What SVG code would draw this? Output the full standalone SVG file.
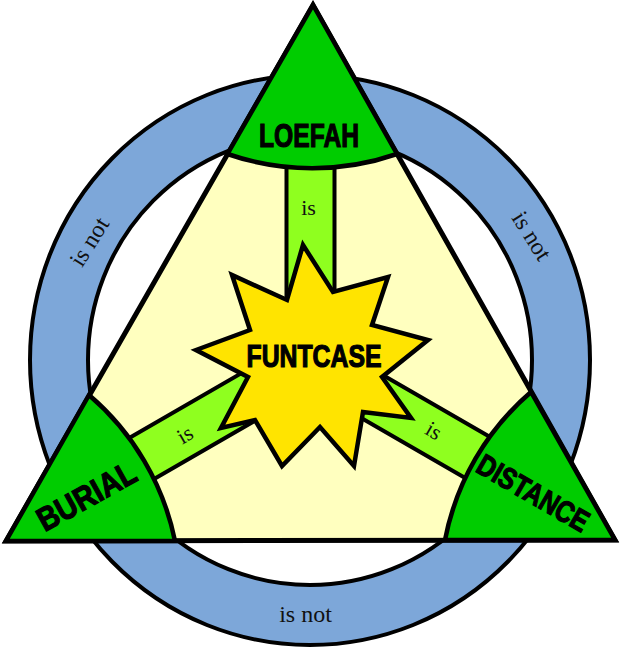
<svg xmlns="http://www.w3.org/2000/svg" width="622" height="654" viewBox="0 0 622 654">
<style>
.ring{fill:#7DA7D9;fill-rule:evenodd;stroke:#000;stroke-width:4;}
.tri{fill:#FFFFBF;stroke:#000;stroke-width:5;stroke-linejoin:miter;}
.bar{fill:#8FFF1F;stroke:#000;stroke-width:4;}
.corner{fill:#00CC00;stroke:#000;stroke-width:4.5;stroke-linejoin:miter;}
.star{fill:#FFE400;stroke:#000;stroke-width:4.5;stroke-linejoin:miter;}
.lbl{font-family:"Liberation Sans","DejaVu Sans",Arial,sans-serif;font-weight:bold;fill:#000;stroke:#000;stroke-width:1.2;text-anchor:middle;}
.rel{font-family:"Liberation Serif","DejaVu Serif","Times New Roman",serif;fill:#111;text-anchor:middle;}
</style>
<rect width="622" height="654" fill="#fff"/>
<g id="ring">
<path class="ring" d="M30 360 A280 285 0 1 0 590 360 A280 285 0 1 0 30 360 Z M88 360 A222 225 0 1 0 532 360 A222 225 0 1 0 88 360 Z"/>
</g>
<g id="triangle">
<polygon class="tri" points="313,5 6,541 615,540"/>
</g>
<g id="connectors">
<rect class="bar" x="0" y="-24" width="206" height="48" transform="translate(310.5,361) rotate(-90)"/>
<rect class="bar" x="0" y="-24" width="206" height="48" transform="translate(310.5,361) rotate(150)"/>
<rect class="bar" x="0" y="-24" width="206" height="48" transform="translate(310.5,361) rotate(30)"/>
</g>
<g id="loefah">
<path class="corner" d="M313 5 L227.5 154 A260 260 0 0 0 397 154 Z"/>
<text class="lbl" x="309" y="147" font-size="34" textLength="100" lengthAdjust="spacingAndGlyphs">LOEFAH</text>
</g>
<g id="burial">
<path class="corner" d="M6 541 L175 541 A260 260 0 0 0 89 395 Z"/>
<text class="lbl" x="92" y="506" font-size="33" textLength="108" lengthAdjust="spacingAndGlyphs" transform="rotate(-29 92 506)">BURIAL</text>
</g>
<g id="distance">
<path class="corner" d="M615 540 L531 392 A260 260 0 0 0 445 540 Z"/>
<text class="lbl" x="528" y="502" font-size="30" textLength="124" lengthAdjust="spacingAndGlyphs" transform="rotate(30 528 502)">DISTANCE</text>
</g>
<g id="funtcase">
<polygon class="star" points="303,245 333,292 388,277 372,325 428,340 382,377 411,418 363,412 354,466 320,427 282,466 255,420 221,428 248,377 196,350 250,330 232,275 287,300"/>
<text class="lbl" x="314" y="367" font-size="31" textLength="135" lengthAdjust="spacingAndGlyphs">FUNTCASE</text>
</g>
<g id="labels">
<text class="rel" x="308.5" y="215" font-size="22">is</text>
<text class="rel" x="188.5" y="441" font-size="22" transform="rotate(-30 188.5 441)">is</text>
<text class="rel" x="430" y="437" font-size="22" transform="rotate(30 430 437)">is</text>
<text class="rel" x="305.5" y="622" font-size="24">is not</text>
<text class="rel" x="96" y="246" font-size="24" transform="rotate(-58 96 246)">is not</text>
<text class="rel" x="525" y="240" font-size="24" transform="rotate(58 525 240)">is not</text>
</g>
</svg>
